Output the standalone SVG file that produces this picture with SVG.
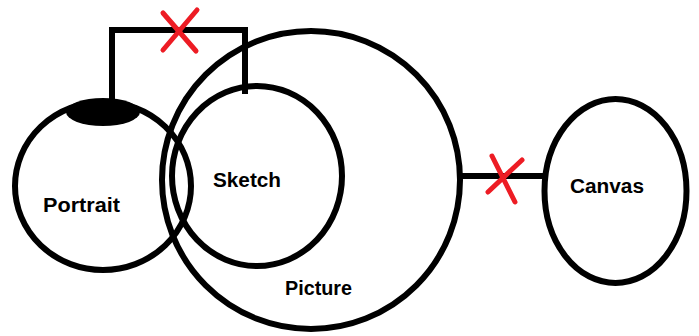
<svg xmlns="http://www.w3.org/2000/svg" width="699" height="336" viewBox="0 0 699 336">
<style>
.c{fill:none;stroke:#000;stroke-width:6}
.l{fill:none;stroke:#000;stroke-width:6;stroke-linecap:square}
.x{fill:none;stroke:#ed1c24;stroke-width:5;stroke-linecap:round}
.t{font-family:"Liberation Sans",Arial,sans-serif;font-weight:bold;font-size:20px;fill:#000}
</style>
<rect width="699" height="336" fill="#fff"/>
<g id="picture">
<ellipse class="c" cx="311" cy="180" rx="149" ry="149"/>
<text class="t" x="285" y="295" textLength="67" lengthAdjust="spacingAndGlyphs">Picture</text>
</g>
<g id="portrait">
<ellipse class="c" cx="103" cy="186" rx="88" ry="84"/>
<ellipse cx="103" cy="112" rx="37" ry="14" fill="#000"/>
<text class="t" x="43" y="212" textLength="77" lengthAdjust="spacingAndGlyphs">Portrait</text>
</g>
<g id="sketch">
<ellipse class="c" cx="257" cy="176" rx="85" ry="90"/>
<text class="t" x="213" y="187" textLength="68" lengthAdjust="spacingAndGlyphs">Sketch</text>
</g>
<g id="canvas">
<ellipse class="c" cx="615.5" cy="191" rx="71" ry="92"/>
<text class="t" x="570" y="193" textLength="74" lengthAdjust="spacingAndGlyphs">Canvas</text>
</g>
<g id="connectors">
<polyline class="l" points="112,98 112,30 245,30 245,91"/>
<line class="x" x1="163" y1="13" x2="196" y2="51"/>
<line class="x" x1="197" y1="10" x2="163" y2="50"/>
<line class="l" x1="461" y1="176" x2="543" y2="176"/>
<line class="x" x1="492" y1="156" x2="515" y2="202"/>
<line class="x" x1="522" y1="160" x2="488" y2="192"/>
</g>
</svg>
